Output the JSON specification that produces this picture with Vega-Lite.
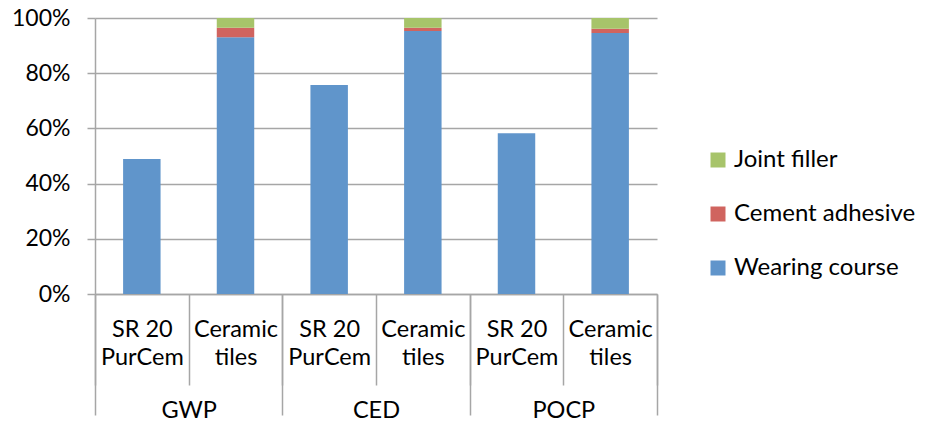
{
  "$schema": "https://vega.github.io/schema/vega-lite/v6.json",
  "width": 562,
  "height": 276,
  "autosize": {"type": "none"},
  "padding": {"left": 95, "top": 18, "right": 274, "bottom": 129},
  "background": "white",
  "config": {
    "view": {"stroke": null},
    "font": "Lato",
    "axis": {"labelFont": "Lato", "labelColor": "black", "domainColor": "#A6A6A6", "tickColor": "#A6A6A6", "gridColor": "#A6A6A6", "domainWidth": 1.5, "tickWidth": 1.5, "gridWidth": 1.5},
    "legend": {"labelFont": "Lato", "labelColor": "black"}
  },
  "data": {
    "values": [
      {"group": "GWP", "bar": "GWP|SR 20|PurCem", "layer": "Wearing course", "o": 1, "value": 0.489},
      {"group": "GWP", "bar": "GWP|Ceramic|tiles", "layer": "Wearing course", "o": 1, "value": 0.930},
      {"group": "GWP", "bar": "GWP|Ceramic|tiles", "layer": "Cement adhesive", "o": 2, "value": 0.035},
      {"group": "GWP", "bar": "GWP|Ceramic|tiles", "layer": "Joint filler", "o": 3, "value": 0.035},
      {"group": "CED", "bar": "CED|SR 20|PurCem", "layer": "Wearing course", "o": 1, "value": 0.757},
      {"group": "CED", "bar": "CED|Ceramic|tiles", "layer": "Wearing course", "o": 1, "value": 0.953},
      {"group": "CED", "bar": "CED|Ceramic|tiles", "layer": "Cement adhesive", "o": 2, "value": 0.012},
      {"group": "CED", "bar": "CED|Ceramic|tiles", "layer": "Joint filler", "o": 3, "value": 0.035},
      {"group": "POCP", "bar": "POCP|SR 20|PurCem", "layer": "Wearing course", "o": 1, "value": 0.582},
      {"group": "POCP", "bar": "POCP|Ceramic|tiles", "layer": "Wearing course", "o": 1, "value": 0.946},
      {"group": "POCP", "bar": "POCP|Ceramic|tiles", "layer": "Cement adhesive", "o": 2, "value": 0.015},
      {"group": "POCP", "bar": "POCP|Ceramic|tiles", "layer": "Joint filler", "o": 3, "value": 0.039}
    ]
  },
  "layer": [
    {
      "mark": {"type": "bar", "width": {"band": 0.4}},
      "encoding": {
        "x": {
          "field": "bar", "type": "nominal", "sort": null,
          "scale": {"paddingInner": 0, "paddingOuter": 0},
          "axis": {
            "orient": "bottom", "title": null, "labelAngle": 0,
            "labelExpr": "slice(split(datum.label, '|'), 1)",
            "labelFontSize": 23.5, "labelLineHeight": 28, "labelBaseline": "top",
            "tickBand": "extent", "tickSize": 91, "labelPadding": -68
          }
        },
        "y": {
          "field": "value", "type": "quantitative", "aggregate": "sum", "stack": "zero",
          "scale": {"domain": [0, 1]},
          "axis": {"title": null, "format": "%", "values": [0, 0.2, 0.4, 0.6, 0.8, 1], "labelFontSize": 23, "tickSize": 8, "labelPadding": 17, "grid": true}
        },
        "color": {
          "field": "layer", "type": "nominal",
          "scale": {"domain": ["Joint filler", "Cement adhesive", "Wearing course"], "range": ["#A7C46A", "#D0645F", "#6095CB"]},
          "legend": {
            "title": null, "orient": "none", "legendX": 611, "legendY": 130, "padding": 0,
            "symbolType": "square", "symbolSize": 225, "symbolStrokeWidth": 0, "symbolOpacity": 1,
            "labelFontSize": 24, "labelOffset": 4, "rowPadding": 30, "labelLimit": 300
          }
        },
        "order": {"field": "o", "type": "quantitative"}
      }
    },
    {
      "mark": {"type": "bar", "opacity": 0},
      "encoding": {
        "x": {
          "field": "group", "type": "nominal", "sort": null,
          "scale": {"paddingInner": 0, "paddingOuter": 0},
          "axis": {
            "orient": "bottom", "title": null, "labelAngle": 0, "domain": false,
            "labelFontSize": 23.5, "labelBaseline": "top",
            "tickBand": "extent", "tickSize": 121, "labelPadding": -17
          }
        },
        "y": {"field": "value", "type": "quantitative", "aggregate": "sum"}
      }
    }
  ],
  "resolve": {"scale": {"x": "independent"}, "axis": {"x": "independent"}}
}
